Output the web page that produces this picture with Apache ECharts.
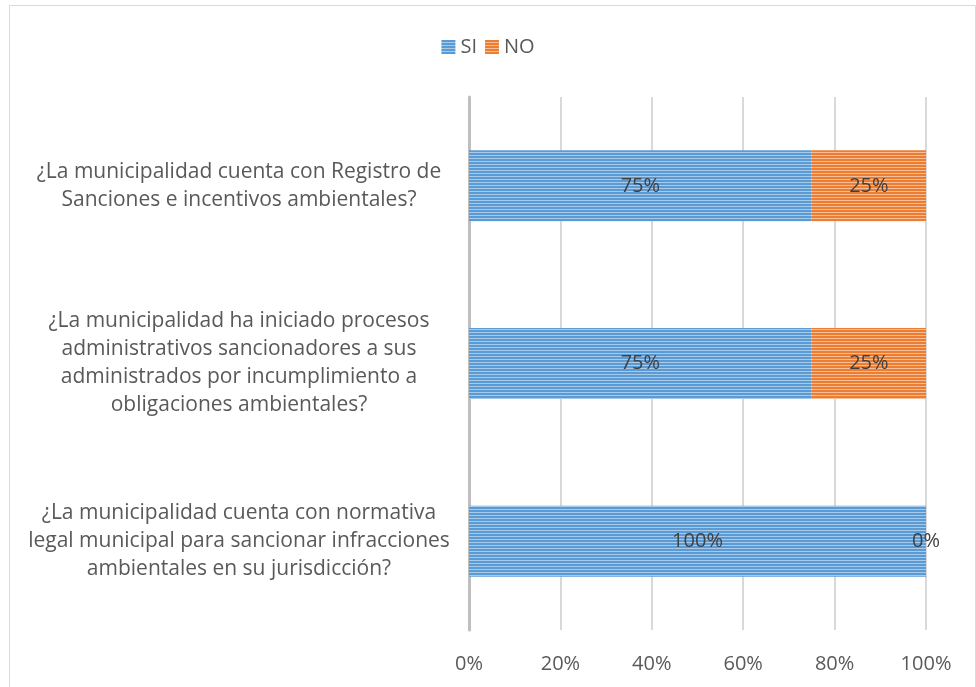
<!DOCTYPE html>
<html>
<head>
<meta charset="utf-8">
<script src="https://cdn.jsdelivr.net/npm/echarts@6/dist/echarts.min.js"></script>
<style>
  html, body { margin: 0; padding: 0; background: #fff; }
  #main { width: 976px; height: 687px; }
</style>
</head>
<body>
<div id="main"></div>
<script>
var categories = [
  '¿La municipalidad cuenta con normativa\nlegal municipal para sancionar infracciones\nambientales en su jurisdicción?',
  '¿La municipalidad ha iniciado procesos\nadministrativos sancionadores a sus\nadministrados por incumplimiento a\nobligaciones ambientales?',
  '¿La municipalidad cuenta con Registro de\nSanciones e incentivos ambientales?'
];
var siValues = [100, 75, 75];
var noValues = [0, 25, 25];
var xTicks = [0, 20, 40, 60, 80, 100];

var font = '"Open Sans", "Noto Sans", sans-serif';

// horizontal stripes like the Excel pattern fill
function stripes(base, light) {
  var c = document.createElement('canvas');
  c.width = 4;
  c.height = 3;
  var ctx = c.getContext('2d');
  ctx.fillStyle = base;
  ctx.fillRect(0, 0, 4, 3);
  ctx.fillStyle = light;
  ctx.fillRect(0, 2, 4, 1);
  return { image: c, repeat: 'repeat' };
}

var myChart = echarts.init(document.getElementById('main'));

myChart.setOption({
  animation: false,
  textStyle: { fontFamily: font },
  graphic: [{
    type: 'rect',
    shape: { x: 9.5, y: 5.5, width: 966, height: 700 },
    style: { fill: 'none', stroke: '#d9d9d9', lineWidth: 1 },
    silent: true
  }],
  legend: {
    top: 32,
    left: 'center',
    itemWidth: 14,
    itemHeight: 14,
    itemGap: 8,
    icon: 'rect',
    textStyle: { fontSize: 20, color: '#595959', fontFamily: font }
  },
  grid: { left: 469, right: 50, top: 97, bottom: 57, outerBoundsMode: 'none' },
  xAxis: {
    type: 'value',
    min: 0,
    max: 100,
    interval: 20,
    axisLine: { show: false },
    axisTick: { show: false },
    splitLine: { lineStyle: { color: '#d9d9d9', width: 2 } },
    axisLabel: {
      margin: 24,
      fontSize: 20,
      color: '#595959',
      formatter: function (v) { return xTicks.indexOf(v) >= 0 ? v + '%' : ''; }
    }
  },
  yAxis: {
    type: 'category',
    data: categories,
    axisTick: { show: false },
    axisLine: { lineStyle: { color: '#bfbfbf', width: 3 } },
    axisLabel: {
      align: 'center',
      margin: 230,
      fontSize: 21,
      lineHeight: 28,
      color: '#595959'
    }
  },
  series: [{
    name: 'SI',
    type: 'bar',
    stack: 'total',
    barWidth: '40%',
    data: siValues,
    itemStyle: { color: stripes('#5b9bd5', '#a9c9e9') },
    label: { show: true, position: 'inside', formatter: '{c}%', fontSize: 20, color: '#404040' }
  }, {
    name: 'NO',
    type: 'bar',
    stack: 'total',
    data: noValues,
    itemStyle: { color: stripes('#ed7d31', '#f6be98') },
    label: { show: true, position: 'inside', formatter: '{c}%', fontSize: 20, color: '#404040' }
  }]
});
</script>
</body>
</html>
